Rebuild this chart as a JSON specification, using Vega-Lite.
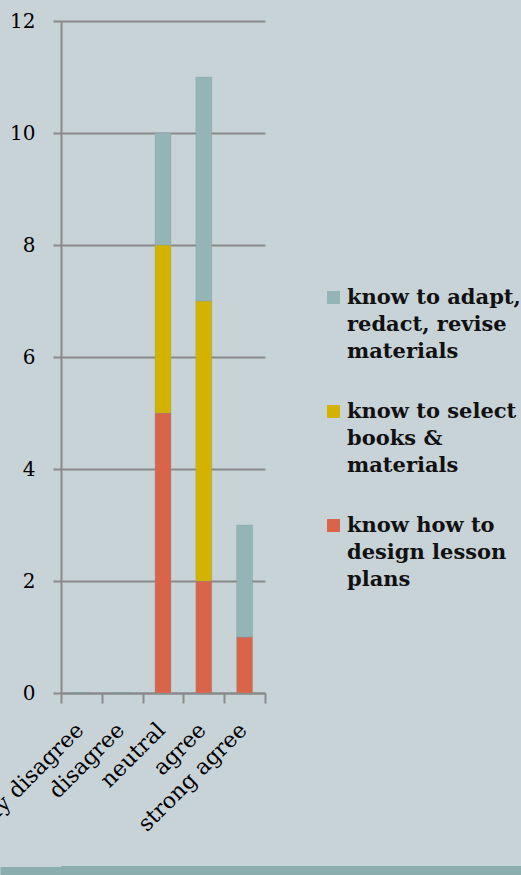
{
  "$schema": "https://vega.github.io/schema/vega-lite/v6.json",
  "background": "#c8d3d8",
  "padding": {"left": -67, "top": 11, "right": 0, "bottom": 0},
  "columns": 1,
  "align": "none",
  "spacing": -9,
  "config": {"view": {"stroke": null}, "font": "DejaVu Serif", "style": {"guide-label": {"lineHeight": 27}}},
  "datasets": {
    "survey": [
      {"response": "strongly disagree", "skill": "know how to design lesson plans", "rank": 1, "count": 0},
      {"response": "strongly disagree", "skill": "know to select books & materials", "rank": 2, "count": 0},
      {"response": "strongly disagree", "skill": "know to adapt, redact, revise materials", "rank": 3, "count": 0},
      {"response": "disagree", "skill": "know how to design lesson plans", "rank": 1, "count": 0},
      {"response": "disagree", "skill": "know to select books & materials", "rank": 2, "count": 0},
      {"response": "disagree", "skill": "know to adapt, redact, revise materials", "rank": 3, "count": 0},
      {"response": "neutral", "skill": "know how to design lesson plans", "rank": 1, "count": 5},
      {"response": "neutral", "skill": "know to select books & materials", "rank": 2, "count": 3},
      {"response": "neutral", "skill": "know to adapt, redact, revise materials", "rank": 3, "count": 2},
      {"response": "agree", "skill": "know how to design lesson plans", "rank": 1, "count": 2},
      {"response": "agree", "skill": "know to select books & materials", "rank": 2, "count": 5},
      {"response": "agree", "skill": "know to adapt, redact, revise materials", "rank": 3, "count": 4},
      {"response": "strong agree", "skill": "know how to design lesson plans", "rank": 1, "count": 1},
      {"response": "strong agree", "skill": "know to select books & materials", "rank": 2, "count": 0},
      {"response": "strong agree", "skill": "know to adapt, redact, revise materials", "rank": 3, "count": 2}
    ]
  },
  "concat": [
    {
      "width": 204,
      "height": 672,
      "data": {"name": "survey"},
      "mark": {"type": "bar", "width": 16, "stroke": "#7f9c9c", "strokeWidth": 0.5, "strokeOpacity": 0.6},
      "encoding": {
        "x": {
          "field": "response",
          "type": "nominal",
          "sort": ["strongly disagree", "disagree", "neutral", "agree", "strong agree"],
          "scale": {"paddingInner": 0, "paddingOuter": 0},
          "axis": {
            "title": null,
            "labelAngle": -45,
            "labelFontSize": 22,
            "labelColor": "#000000",
            "labelPadding": 16,
            "labelOffset": -9,
            "tickBand": "extent",
            "tickSize": 10,
            "tickWidth": 2,
            "tickColor": "#8a8a8a",
            "domainColor": "#8a8a8a",
            "domainWidth": 2,
            "labelLimit": 400
          }
        },
        "y": {
          "field": "count",
          "type": "quantitative",
          "stack": "zero",
          "scale": {"domain": [0, 12]},
          "axis": {
            "title": null,
            "values": [0, 2, 4, 6, 8, 10, 12],
            "grid": true,
            "gridColor": "#8a8a8a",
            "gridWidth": 2,
            "domainColor": "#8a8a8a",
            "domainWidth": 2,
            "tickColor": "#8a8a8a",
            "tickWidth": 2,
            "tickSize": 8,
            "labelFontSize": 20,
            "labelColor": "#000000",
            "labelPadding": 18
          }
        },
        "color": {
          "field": "skill",
          "type": "nominal",
          "scale": {
            "domain": ["know to adapt, redact, revise materials", "know to select books & materials", "know how to design lesson plans"],
            "range": ["#93b5b5", "#d4b300", "#da644a"]
          },
          "legend": {
            "orient": "none",
            "legendX": 262,
            "legendY": 266,
            "title": null,
            "padding": 0,
            "symbolType": "square",
            "symbolSize": 169,
            "symbolStrokeWidth": 0,
            "labelFont": "DejaVu Serif",
            "labelFontWeight": "bold",
            "labelFontSize": 21,
            "labelColor": "#111111",
            "labelLimit": 400,
            "labelOffset": 3,
            "rowPadding": 38,
            "labelExpr": "datum.label == 'know to adapt, redact, revise materials' ? ['know to adapt,', 'redact, revise', 'materials'] : datum.label == 'know to select books & materials' ? ['know to select', 'books &', 'materials'] : ['know how to', 'design lesson', 'plans']"
          }
        },
        "order": {"field": "rank", "type": "quantitative"}
      }
    },
    {
      "width": 470,
      "height": 9,
      "data": {"name": "survey"},
      "mark": {"type": "point", "opacity": 0},
      "encoding": {
        "y": {
          "field": "count",
          "type": "quantitative",
          "scale": {"domain": [0, 1], "clamp": true},
          "axis": {
            "title": null,
            "values": [0.5],
            "labels": false,
            "domain": false,
            "grid": false,
            "tickSize": 61,
            "tickWidth": 9,
            "tickColor": "#8cadad"
          }
        }
      },
      "view": {"fill": "#8cadad", "stroke": null}
    }
  ]
}
